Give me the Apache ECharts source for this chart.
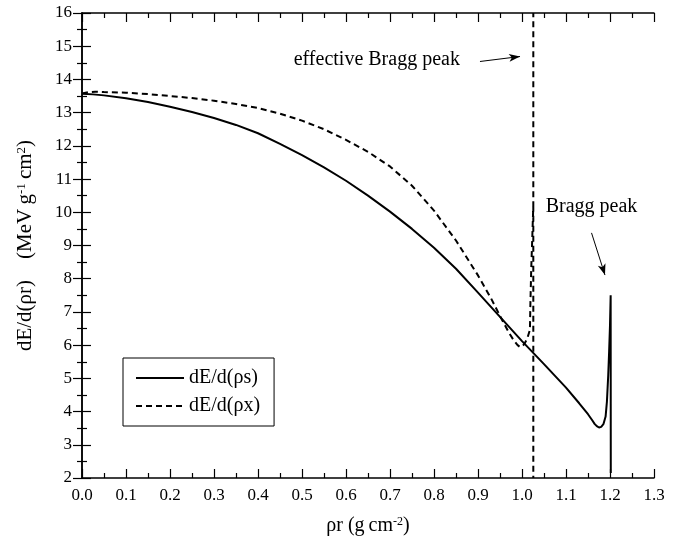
<!DOCTYPE html>
<html>
<head>
<meta charset="utf-8">
<script src="https://cdn.jsdelivr.net/npm/echarts@6/dist/echarts.min.js"></script>
<style>
html,body{margin:0;padding:0;background:#fff;}
#chart{width:679px;height:543px;}
</style>
</head>
<body>
<div id="chart"></div>
<script>
// ---- data ----
const seriesNames = ['dE/d(ρs)', 'dE/d(ρx)'];
const xTicks = ['0.0','0.1','0.2','0.3','0.4','0.5','0.6','0.7','0.8','0.9','1.0','1.1','1.2','1.3'];
const yTicks = ['2','3','4','5','6','7','8','9','10','11','12','13','14','15','16'];
const solidX = [0, 0.025, 0.05, 0.1, 0.15, 0.2, 0.25, 0.3, 0.35, 0.4, 0.45, 0.5, 0.55, 0.6, 0.65, 0.7, 0.75, 0.8, 0.85, 0.9, 0.95, 1.0, 1.05, 1.1, 1.13, 1.15, 1.16, 1.165, 1.17, 1.175, 1.18, 1.185, 1.19, 1.193, 1.196, 1.198, 1.2, 1.2015, 1.2018];
const solidY = [13.57, 13.55, 13.52, 13.43, 13.32, 13.18, 13.02, 12.84, 12.63, 12.38, 12.06, 11.72, 11.35, 10.95, 10.5, 10.02, 9.5, 8.93, 8.3, 7.58, 6.85, 6.12, 5.43, 4.72, 4.25, 3.92, 3.73, 3.63, 3.56, 3.52, 3.54, 3.62, 3.85, 4.3, 5.1, 5.8, 6.6, 7.5, 2.15];
const dashX = [0, 0.015, 0.03, 0.05, 0.1, 0.15, 0.2, 0.25, 0.3, 0.35, 0.4, 0.45, 0.5, 0.55, 0.6, 0.65, 0.7, 0.75, 0.8, 0.85, 0.9, 0.93, 0.95, 0.97, 0.98, 0.99, 0.995, 1.0, 1.005, 1.012, 1.018, 1.019, 1.021, 1.0235, 1.0257, 1.0257, 1.0257, 1.0257, 1.0257];
const dashY = [13.58, 13.62, 13.63, 13.62, 13.6, 13.56, 13.5, 13.44, 13.36, 13.26, 13.14, 12.97, 12.76, 12.5, 12.18, 11.82, 11.38, 10.8, 10.05, 9.15, 8.1, 7.4, 6.88, 6.38, 6.17, 6.0, 5.95, 5.96, 6.03, 6.2, 6.46, 7.2, 8.3, 9.3, 10.2, 16, null, 10.2, 2];
const annotationTexts = ['effective Bragg peak', 'Bragg peak'];
const annotationAt = [[0.67, 14.59], [1.158, 10.16]];
const arrowFrom = [[0.9045, 14.54], [1.158, 9.38]];
const arrowTo = [[0.9955, 14.69], [1.1886, 8.11]];

// ---- build ----
const pairs = (xs, ys) => xs.map((x, i) => ys[i] === null ? [x, '-'] : [x, ys[i]]);
const FONT = '"Liberation Serif", "DejaVu Serif", serif';
const xMin = parseFloat(xTicks[0]), xMax = parseFloat(xTicks[xTicks.length - 1]);
const yMin = parseFloat(yTicks[0]), yMax = parseFloat(yTicks[yTicks.length - 1]);

const axisCommon = {
  axisLine: { show: true, lineStyle: { color: '#000', width: 1.5 } },
  axisTick: { show: true, inside: true, length: 9, lineStyle: { color: '#000', width: 1.2 } },
  minorTick: { show: true, splitNumber: 2, length: 5, lineStyle: { color: '#000', width: 1.2 } },
  splitLine: { show: false },
  minorSplitLine: { show: false }
};
const richTitle = {
  a: { fontFamily: FONT, fontSize: 20, color: '#000' },
  s: { fontFamily: FONT, fontSize: 12, color: '#000', verticalAlign: 'top' }
};

const chart = echarts.init(document.getElementById('chart'), null, { renderer: 'canvas' });
chart.setOption({
  backgroundColor: '#fff',
  animation: false,
  textStyle: { fontFamily: FONT, color: '#000' },
  grid: { left: 82, right: 25, top: 13, bottom: 65, containLabel: false },
  legend: {
    orient: 'vertical',
    left: 123, top: 358,
    data: seriesNames,
    borderColor: '#000', borderWidth: 1,
    padding: [10, 14, 10, 12],
    itemWidth: 48, itemHeight: 14, itemGap: 8,
    itemStyle: { opacity: 0, color: 'transparent', borderWidth: 0 },
    textStyle: { fontFamily: FONT, fontSize: 20, color: '#000', lineHeight: 20 },
    selectedMode: false
  },
  xAxis: [
    Object.assign({}, axisCommon, {
      type: 'value', min: xMin, max: xMax, interval: 0.1,
      name: '{a|ρr (g\u2009cm}{s|-2}{a|)}',
      nameLocation: 'middle', nameGap: 38,
      nameTextStyle: { rich: richTitle },
      axisLabel: { fontFamily: FONT, fontSize: 17, color: '#000', margin: 9, formatter: v => v.toFixed(1) }
    }),
    Object.assign({}, axisCommon, {
      type: 'value', min: xMin, max: xMax, interval: 0.1, position: 'top',
      axisLabel: { show: false }
    })
  ],
  yAxis: [
    Object.assign({}, axisCommon, {
      type: 'value', min: yMin, max: yMax, interval: 1,
      name: '{a|dE/d(ρr)\u2002\u2002(MeV\u2009g}{s|-1}{a|\u2009cm}{s|2}{a|)}',
      nameLocation: 'middle', nameGap: 46, nameRotate: 90,
      nameTextStyle: { rich: {
        a: { fontFamily: FONT, fontSize: 21, color: '#000' },
        s: { fontFamily: FONT, fontSize: 13, color: '#000', verticalAlign: 'top' }
      } },
      axisLabel: { fontFamily: FONT, fontSize: 17, color: '#000', margin: 10 }
    }),
    Object.assign({}, axisCommon, {
      type: 'value', min: yMin, max: yMax, interval: 1, position: 'right',
      axisLabel: { show: false }
    })
  ],
  series: [
    {
      name: seriesNames[0], type: 'line', data: pairs(solidX, solidY),
      showSymbol: false, symbol: 'none', smooth: false,
      lineStyle: { color: '#000', width: 2 }, itemStyle: { color: '#000' },
      markLine: {
        silent: true, symbol: ['none', 'arrow'], symbolSize: [6, 11],
        lineStyle: { color: '#000', width: 1, type: 'solid' },
        itemStyle: { color: '#000' },
        label: { show: false },
        data: arrowFrom.map((p, i) => [{ coord: p }, { coord: arrowTo[i] }])
      },
      markPoint: {
        silent: true, symbol: 'circle', symbolSize: 0,
        label: { show: true, position: 'inside', fontFamily: FONT, fontSize: 20, color: '#000', formatter: p => p.name },
        data: annotationTexts.map((t, i) => ({ name: t, coord: annotationAt[i] }))
      }
    },
    {
      name: seriesNames[1], type: 'line', data: pairs(dashX, dashY),
      showSymbol: false, symbol: 'none', smooth: false, connectNulls: false,
      lineStyle: { color: '#000', width: 2, type: [6, 4] }, itemStyle: { color: '#000' }
    }
  ]
});
</script>
</body>
</html>
